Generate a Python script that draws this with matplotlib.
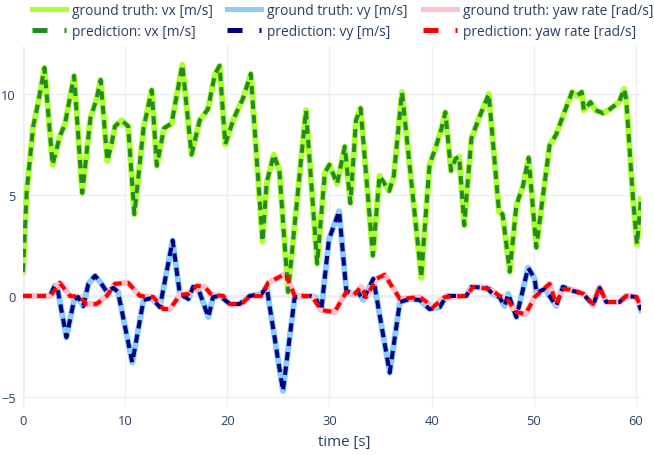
import matplotlib.pyplot as plt
from matplotlib.lines import Line2D

# Knots (time [s], value)
t_vx = [0, 0.36, 1.0, 1.5, 2.1, 2.9, 3.6, 4.1, 5.0, 5.8, 6.6, 7.2, 7.6, 8.25, 8.7, 9.0,
        9.65, 10.3, 10.9, 11.8, 12.6, 13.1, 13.8, 14.55, 15.6, 16.5, 17.3, 18.1, 18.8,
        19.25, 19.8, 20.6, 21.55, 22.3, 23.45, 23.85, 24.55, 25.1, 25.95, 27.7, 28.8,
        29.55, 30.0, 30.75, 31.5, 32.05, 32.6, 33.05, 34.25, 34.9, 35.85, 36.3, 37.1,
        39.0, 39.2, 39.8, 40.4, 40.95, 41.35, 41.9, 42.35, 42.7, 43.2, 43.4, 43.9, 44.55,
        45.6, 46.6, 46.95, 47.65, 48.3, 48.95, 49.5, 50.25, 50.9, 51.55, 52.2, 52.85,
        53.75, 54.2, 54.7, 54.9, 55.55, 56.05, 56.8, 57.45, 58.35, 58.85, 59.05, 59.7,
        60.1, 60.5]
gt_vx = [1.2, 5.15, 8.4, 9.6, 11.3, 6.5, 7.9, 8.5, 10.9, 5.1, 8.8, 9.75, 10.7, 6.7, 7.6, 8.4,
         8.7, 8.4, 4.05, 8.3, 10.2, 6.45, 8.3, 8.55, 11.45, 7.0, 8.7, 9.25, 11.0,
         11.4, 7.5, 8.75, 9.8, 11.0, 2.7, 5.6, 7.0, 6.2, 0.2, 9.2, 1.6,
         6.1, 6.5, 5.55, 7.4, 4.6, 8.7, 9.3, 2.0, 5.95, 5.2, 5.95, 10.1,
         0.9, 2.5, 6.5, 7.35, 8.25, 9.1, 6.2, 6.8, 6.9, 3.5, 4.8, 7.8, 8.7,
         10.0, 4.15, 4.05, 1.2, 4.5, 5.45, 6.85, 2.4, 4.95, 7.45, 8.0, 8.9,
         10.1, 9.9, 10.1, 9.2, 9.6, 9.2, 9.05, 9.25, 9.6, 10.25, 9.75, 4.95,
         2.55, 4.8]
pred_vx = list(gt_vx)

t_vy = [0, 2.65, 3.1, 3.4, 4.25, 5.0, 5.4, 5.9, 6.4, 7.05, 7.55, 8.2, 8.85, 9.3, 10.7, 11.8,
        12.6, 13.4, 14.65, 15.35, 16.2, 16.65, 17.2, 18.15, 18.6, 19.3, 20.25, 21.2, 22.2,
        23.35, 23.85, 25.45, 26.6, 28.1, 28.6, 29.2, 29.95, 30.95, 31.65, 32.3, 32.8, 33.3,
        34.3, 35.9, 36.9, 37.85, 38.85, 39.8, 40.8, 41.45, 43.4, 43.9, 45.4, 46.0, 46.65,
        47.15, 47.5, 48.3, 49.45, 50.1, 50.25, 51.1, 52.2, 52.85, 53.85, 54.85, 55.8,
        56.45, 57.1, 58.4, 59.05, 60.05, 60.5]
gt_vy = [0, 0, 0.5, 0.3, -2.05, -0.2, -0.05, -0.5, 0.6, 1.0, 0.7, 0.2, 0.4, 0.2, -3.3, -0.2,
         -0.1, -0.55, 2.75, 0.1, -0.15, 0.45, 0.3, -1.05, -0.05, 0, -0.4, -0.4, 0,
         0.1, 0.45, -4.7, -0.05, 0, -0.05, -0.7, 2.8, 4.2, 0.25, 0.1, 0.2, -0.2,
         0.85, -3.8, -0.3, -0.15, -0.2, -0.65, -0.55, 0, 0, 0.45, 0.4, 0.1, -0.05,
         -0.5, 0.1, -1.05, 1.4, 0.85, 0.15, 0.35, -0.5, 0.45, 0.25, 0.1, -0.45,
         0.4, -0.3, -0.3, 0, -0.05, -0.7]
pred_vy = list(gt_vy)

t_yaw = [0, 2.7, 3.6, 4.6, 5.6, 6.2, 7.2, 8.2, 9.0, 10.3, 11.45, 12.75, 13.75, 14.4, 15.35,
         16.2, 17.0, 17.8, 18.45, 19.6, 20.25, 21.4, 22.2, 23.3, 24.0, 25.7, 26.6, 28.25,
         29.2, 30.5, 31.65, 32.4, 33.1, 33.6, 34.6, 35.4, 36.9, 38.85, 40.15, 41.3, 43.4,
         44.05, 45.7, 46.65, 47.3, 48.3, 49.2, 50.1, 51.55, 52.2, 52.85, 53.85, 54.85,
         55.8, 56.45, 57.1, 58.4, 59.05, 60.05, 60.5]
gt_yaw = [0, 0, 0.65, 0, -0.05, -0.4, -0.4, 0, 0.6, 0.65, 0, -0.05, -0.65, -0.65, 0.05,
          0.1, 0.5, 0.45, 0.05, 0, -0.4, -0.4, 0, 0, 0.65, 1.1, 0, 0,
          -0.7, -0.8, 0.2, 0.05, 0.45, -0.05, 0.85, 1.05, -0.15, -0.05, -0.55, -0.05, 0,
          0.45, 0.35, 0, -0.1, -0.8, -0.9, -0.05, 0.6, -0.4, 0.35, 0.3, 0.1,
          -0.4, 0.45, -0.3, -0.3, 0, -0.05, -0.55]
pred_yaw = list(gt_yaw)

x_ticks = [0, 10, 20, 30, 40, 50, 60]
y_ticks = [-5, 0, 5, 10]

txt_col = '#2a3f5f'
grid_col = '#EBF0F8'
plt.rcParams['font.family'] = ['Open Sans', 'DejaVu Sans']

fig = plt.figure(figsize=(6.54, 4.56), dpi=100)
ax = fig.add_axes([23 / 654, 1 - 408 / 456, 618 / 654, 361 / 456])

gw, pw = 4.3, 2.9
dash = (2.1, 1.5)
ax.plot(t_vx, gt_vx, color='greenyellow', lw=gw, solid_joinstyle='round', zorder=3)
ax.plot(t_vy, gt_vy, color='lightskyblue', lw=gw, solid_joinstyle='round', zorder=3)
ax.plot(t_yaw, gt_yaw, color='pink', lw=gw, solid_joinstyle='round', zorder=3)
ax.plot(t_vx, pred_vx, color='forestgreen', lw=pw, dashes=dash, dash_joinstyle='round', zorder=4)
ax.plot(t_vy, pred_vy, color='navy', lw=pw, dashes=dash, dash_joinstyle='round', zorder=4)
ax.plot(t_yaw, pred_yaw, color='red', lw=pw, dashes=dash, dash_joinstyle='round', zorder=4)

ax.set_xlim(0, 60.5)
ax.set_ylim(-5.5, 12.38)
ax.set_xticks(x_ticks)
ax.set_yticks(y_ticks)
ax.set_yticklabels(['\u22125', '0', '5', '10'])
ax.tick_params(length=0, labelsize=9.3, colors=txt_col, pad=5)
ax.grid(color=grid_col, lw=1, zorder=0)
ax.set_axisbelow(True)
ax.axhline(0, color=grid_col, lw=2, zorder=1)
ax.axvline(0, color=grid_col, lw=2, zorder=1)
for s in ax.spines.values():
    s.set_visible(False)
fig.text(344.5 / 654, 1 - 443 / 456, 'time [s]', fontsize=10.8, color=txt_col,
         ha='center', va='center')

# Legend: one two-row column per signal, placed at the reference x positions
leg_dash = (3.0, 3.4)
leg_cols = [
    (32, 'greenyellow', 'forestgreen', 'vx [m/s]'),
    (227, 'lightskyblue', 'navy', 'vy [m/s]'),
    (423, 'pink', 'red', 'yaw rate [rad/s]'),
]
fs = 9.9
for x0, c_gt, c_pr, name in leg_cols:
    hs = [Line2D([], [], color=c_gt, lw=3.6),
          Line2D([], [], color=c_pr, lw=3.6, dashes=leg_dash)]
    leg = fig.legend(hs, ['ground truth: ' + name, 'prediction: ' + name],
                     loc='upper left', bbox_to_anchor=(x0 / 654, 1 - 4 / 456),
                     frameon=False, fontsize=fs, handlelength=34 / (fs * 1.389),
                     handletextpad=6 / (fs * 1.389), labelspacing=0.45,
                     borderpad=0, borderaxespad=0)
    for t in leg.get_texts():
        t.set_color(txt_col)

fig.savefig('out.png', dpi=100)
